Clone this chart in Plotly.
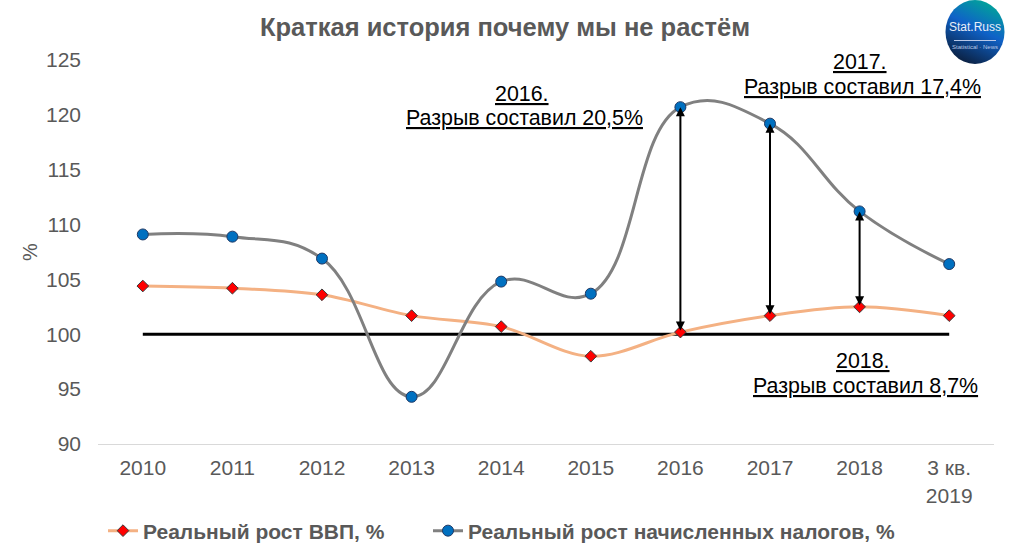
import plotly.graph_objects as go

# chart data
years = ['2010', '2011', '2012', '2013', '2014', '2015', '2016', '2017', '2018', '3 кв.<br>2019']
gdp = [104.4, 104.2, 103.6, 101.7, 100.7, 98.0, 100.2, 101.7, 102.5, 101.7]
taxes = [109.1, 108.9, 106.9, 94.3, 104.8, 103.7, 120.7, 119.2, 111.2, 106.4]
base = [100] * 10
y_ticks = [90, 95, 100, 105, 110, 115, 120, 125]

title = 'Краткая история почему мы не растём'
note_years = ['2016.', '2017.', '2018.']
note_gaps = ['Разрыв составил 20,5%', 'Разрыв составил 17,4%', 'Разрыв составил 8,7%']
gap_idx = [6, 7, 8]

GREY = '#595959'
FONT = 'Liberation Sans, Arial, sans-serif'
W, H = 1009, 555
L, R, T, B = 98, 994, 60, 444


# picture pixels to paper fractions
def fx(px):
    return (px - L) / (R - L)


def fy(py):
    return (B - py) / (B - T)


def label(text, px, py, **kw):
    fig.add_annotation(text=text, xref='paper', yref='paper', x=fx(px), y=fy(py), showarrow=False,
                       xanchor='center', yanchor='middle', **kw)


fig = go.Figure()

# black line at 100, no legend entry
fig.add_trace(go.Scatter(x=years, y=base, mode='lines', line=dict(color='black', width=3),
                         showlegend=False, hoverinfo='skip'))
fig.add_trace(go.Scatter(x=years, y=gdp, mode='lines+markers', name='<b>Реальный рост ВВП, %</b>',
                         legendwidth=280,
                         line=dict(color='#F4B183', width=3, shape='spline', smoothing=1.0),
                         marker=dict(symbol='diamond', size=9, color='#FF0000',
                                     line=dict(color='#3A3A3A', width=1))))
fig.add_trace(go.Scatter(x=years, y=taxes, mode='lines+markers', name='<b>Реальный рост начисленных налогов, %</b>',
                         legendwidth=470,
                         line=dict(color='#808080', width=3, shape='spline', smoothing=1.2),
                         marker=dict(symbol='circle', size=11, color='#0070C0',
                                     line=dict(color='#1F3864', width=1))))

fig.update_layout(
    width=W, height=H,
    margin=dict(l=L, r=W - R, t=T, b=H - B, autoexpand=False),
    paper_bgcolor='white', plot_bgcolor='white',
    font=dict(family=FONT, color=GREY),
    title=dict(text='<b>' + title + '</b>', font=dict(size=25.5, color=GREY, family=FONT),
               x=505 / W, xanchor='center', y=1 - 27 / H, yanchor='middle'),
    legend=dict(orientation='h', x=fx(103), xanchor='left', y=fy(531), yanchor='middle',
                font=dict(size=21, color=GREY, family=FONT),
                itemwidth=30, bgcolor='rgba(0,0,0,0)', traceorder='normal'),
)

fig.update_xaxes(type='category', categoryorder='array', categoryarray=years, range=[-0.5, 9.5],
                 showgrid=False, zeroline=False, showline=True, linecolor='#D9D9D9', linewidth=1,
                 ticks='', tickfont=dict(size=21, color=GREY, family=FONT), tickangle=0, ticklabelstandoff=5)
fig.update_yaxes(range=[90, 125], tickvals=y_ticks, showgrid=False, zeroline=False, showline=False,
                 ticks='', tickfont=dict(size=21, color=GREY, family=FONT), ticklabelstandoff=16)

# % axis title
label('%', 30, 252, textangle=-90, font=dict(size=20, color=GREY, family=FONT))

# double arrows between the two series
for i in gap_idx:
    fig.add_annotation(x=i, y=taxes[i], ax=i, ay=gdp[i], xref='x', yref='y', axref='x', ayref='y',
                       text='', showarrow=True, arrowside='end+start', arrowhead=2, startarrowhead=2,
                       arrowsize=0.9, startarrowsize=0.9, arrowwidth=2, arrowcolor='black',
                       standoff=0, startstandoff=0)

# notes about the gap, one annotation per line to keep the tight line spacing
note_pos = [(524, 94, 118), (862, 62, 87), (865, 361, 386)]
for head, gap, (px, py1, py2) in zip(note_years, note_gaps, note_pos):
    label('<u>' + head + '</u>', px - 2, py1, font=dict(size=21.4, color='black', family=FONT))
    label('<u>' + gap + '</u>', px, py2, font=dict(size=21.4, color='black', family=FONT))

# logo in the top right corner
logo = ("data:image/svg+xml;utf8,<svg xmlns='http://www.w3.org/2000/svg' width='60' height='64'>"
        "<defs><linearGradient id='g' x1='0.75' y1='0' x2='0.3' y2='1'>"
        "<stop offset='0' stop-color='%2300A896'/><stop offset='0.45' stop-color='%230F62C8'/>"
        "<stop offset='1' stop-color='%230B1E3C'/></linearGradient></defs>"
        "<ellipse cx='30' cy='32' rx='29.5' ry='32' fill='url(%23g)'/>"
        "<rect x='9' y='40' width='42' height='1' fill='%23B8C8E8'/></svg>")
fig.add_layout_image(source=logo, xref='paper', yref='paper', x=fx(945), y=fy(0),
                     sizex=60 / (R - L), sizey=64 / (B - T), xanchor='left', yanchor='top',
                     sizing='stretch', layer='above')
label('Stat.Russ', 975, 27, font=dict(size=12, color='#E8EEF8', family='Liberation Sans Narrow, ' + FONT))
label('Statistical · News', 975, 47, font=dict(size=6, color='#B8C8E8', family=FONT))

# the default page margin would push the figure 8px off
fig.write_html("out.html", config=dict(displayModeBar=False), post_script="document.body.style.margin='0';")
